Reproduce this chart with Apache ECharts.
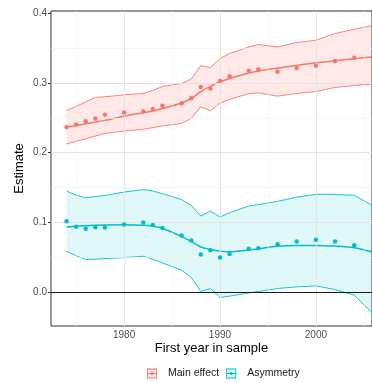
<!DOCTYPE html>
<html><head><meta charset="utf-8">
<script src="https://cdn.jsdelivr.net/npm/echarts@6/dist/echarts.min.js"></script>
<style>html,body{margin:0;padding:0;background:#fff}#c{width:372px;height:383px}</style>
</head><body><div id="c"></div>
<script>
// ---- data ----
const pointYears = [1974,1975,1976,1977,1978,1980,1982,1983,1984,1986,1987,1988,1989,1990,1991,1993,1994,1996,1998,2000,2002,2004];
const curveYears = [1974,1975,1976,1977,1978,1980,1982,1983,1984,1986,1987,1988,1989,1990,1991,1993,1994,1996,1998,2000,2002,2004,2006];

const mainPoints = [0.2369,0.2405,0.2452,0.2492,0.2545,0.2578,0.2598,0.2628,0.2674,0.2710,0.2782,0.2945,0.2925,0.3030,0.3098,0.3177,0.3198,0.3165,0.3218,0.3251,0.3320,0.3365];
const mainFit    = [0.2365,0.2390,0.2415,0.2440,0.2465,0.2525,0.2575,0.2600,0.2635,0.2715,0.2780,0.2880,0.2955,0.3020,0.3068,0.3145,0.3175,0.3215,0.3255,0.3292,0.3322,0.3352,0.3378];
const mainUpper  = [0.2607,0.2665,0.2730,0.2795,0.2805,0.2832,0.2852,0.2895,0.2952,0.2995,0.3060,0.3250,0.3225,0.3354,0.3426,0.3520,0.3555,0.3520,0.3584,0.3617,0.3713,0.3775,0.3830];
const mainLower  = [0.2125,0.2165,0.2200,0.2240,0.2275,0.2311,0.2336,0.2360,0.2387,0.2420,0.2494,0.2660,0.2603,0.2715,0.2766,0.2850,0.2861,0.2813,0.2852,0.2880,0.2938,0.2965,0.2990];

const asymPoints = [0.1014,0.0935,0.0909,0.0928,0.0924,0.0967,0.0998,0.0963,0.0917,0.0809,0.0737,0.0538,0.0600,0.0495,0.0543,0.0620,0.0629,0.0686,0.0725,0.0748,0.0723,0.0672];
const asymFit    = [0.0932,0.0945,0.0952,0.0958,0.0962,0.0965,0.0958,0.0945,0.0915,0.0795,0.0725,0.0645,0.0610,0.0586,0.0578,0.0602,0.0620,0.0655,0.0668,0.0668,0.0658,0.0635,0.0570];
const asymUpper  = [0.1449,0.1390,0.1354,0.1370,0.1387,0.1435,0.1470,0.1450,0.1412,0.1326,0.1244,0.1090,0.1162,0.1076,0.1139,0.1234,0.1254,0.1301,0.1363,0.1402,0.1402,0.1387,0.1235];
const asymLower  = [0.0584,0.0520,0.0465,0.0470,0.0479,0.0493,0.0512,0.0470,0.0416,0.0311,0.0210,0.0005,0.0049,-0.0080,-0.0062,-0.0014,0.0005,0.0049,0.0072,0.0086,0.0034,-0.0047,-0.0320];

const seriesNames = ['Main effect','Asymmetry'];
const xTickValues = [1980,1990,2000];
const yTickValues = [0,0.1,0.2,0.3,0.4];
const xMajorGrid = [1980,1990,2000];
const xMinorGrid = [1975,1985,1995,2005];
const yMajorGrid = [0.1,0.2,0.3];
const yMinorGrid = [0.05,0.15,0.25,0.35];
const zeroLine = [0];

// ---- styling ----
const RED = '#F8766D', TEAL = '#00BFC4';
const RED_FILL = 'rgba(248,118,109,0.16)', TEAL_FILL = 'rgba(0,191,196,0.12)';
const FONT = 'Liberation Sans, Arial, sans-serif';

function pairs(xs, ys){ return xs.map((x,i)=>[x, ys[i]]); }

function bandRenderer(fill){
  return function(params, api){
    if (params.dataIndexInside !== 0) return null;
    const n = params.dataInsideLength;
    const upPts = [], loPts = [];
    for (let i = 0; i < n; i++){
      const x = api.value(0, i);
      loPts.push(api.coord([x, api.value(1, i)]));
      upPts.push(api.coord([x, api.value(2, i)]));
    }
    const pts = upPts.concat(loPts.reverse());
    const cs = params.coordSys;
    return {
      type:'polygon',
      shape:{points:pts},
      style:{fill:fill, stroke:null},
      clipPath:{type:'rect', shape:{x:cs.x, y:cs.y, width:cs.width, height:cs.height}},
      silent:true
    };
  };
}

function groupSeries(name, color, fill, pts, fit, up, lo){
  return [
    {name, type:'custom', renderItem:bandRenderer(fill),
     data: curveYears.map((x,i)=>[x, lo[i], up[i]]),
     encode:{x:0, y:[1,2]}, silent:true, z:1},
    {name, type:'line', data:pairs(curveYears, up), symbol:'none', showSymbol:false, lineStyle:{color, width:0.9}, silent:true, z:3},
    {name, type:'line', data:pairs(curveYears, lo), symbol:'none', showSymbol:false, lineStyle:{color, width:0.9}, silent:true, z:3},
    {name, type:'line', data:pairs(curveYears, fit), symbol:'none', showSymbol:false, smooth:0.3, lineStyle:{color, width:1.5}, silent:true, z:4},
    {name, type:'scatter', data:pairs(pointYears, pts), symbolSize:4.5, itemStyle:{color, opacity:1}, silent:true, z:5}
  ];
}

function ml(arr, key){ return arr.map(v => ({[key]: v})); }

const gridSeries = [
  {name:'_gridMinor', type:'line', data:[], silent:true, z:0,
   markLine:{silent:true, symbol:'none', label:{show:false}, animation:false,
     lineStyle:{color:'#f0f0f0', width:0.7, type:'solid'},
     data: ml(xMinorGrid,'xAxis').concat(ml(yMinorGrid,'yAxis'))}},
  {name:'_gridMajor', type:'line', data:[], silent:true, z:0,
   markLine:{silent:true, symbol:'none', label:{show:false}, animation:false,
     lineStyle:{color:'#e4e4e4', width:1, type:'solid'},
     data: ml(xMajorGrid,'xAxis').concat(ml(yMajorGrid,'yAxis'))}},
  {name:'_zero', type:'line', data:[], silent:true, z:2,
   markLine:{silent:true, symbol:'none', label:{show:false}, animation:false,
     lineStyle:{color:'#1a1a1a', width:1.2, type:'solid'},
     data: ml(zeroLine,'yAxis')}}
];

const iconPath = 'path://M0,0 H10 V10 H0 Z M0.9,0.9 V9.1 H9.1 V0.9 Z M0.9,4.5 H9.1 V5.5 H0.9 Z M3.4,5 A1.6,1.6 0 1 1 6.6,5 A1.6,1.6 0 1 1 3.4,5 Z';

const legendBase = {orient:'horizontal', left:147, top:368, padding:0, itemWidth:10, itemHeight:10, itemGap:7,
  selectedMode:false};

const option = {
  animation:false,
  backgroundColor:'#fff',
  textStyle:{fontFamily:FONT},
  grid:{left:51, right:-1, top:11, bottom:57, show:true, borderColor:'#333', borderWidth:1, backgroundColor:'#fff'},
  xAxis:{type:'value', min:1972.38, max:2005.85,
    name:'First year in sample', nameLocation:'middle', nameGap:16, nameMoveOverlap:false,
    nameTextStyle:{fontSize:13, color:'#000', fontFamily:FONT},
    axisLine:{show:false}, splitLine:{show:false},
    axisTick:{show:true, length:3, lineStyle:{color:'#333'}, customValues:xTickValues},
    axisLabel:{fontSize:10, color:'#4d4d4d', margin:4, fontFamily:FONT, customValues:xTickValues,
      formatter: v => String(v)}},
  yAxis:{type:'value', min:-0.049, max:0.4037,
    name:'Estimate', nameLocation:'middle', nameGap:25, nameRotate:90, nameMoveOverlap:false,
    nameTextStyle:{fontSize:13, color:'#000', fontFamily:FONT},
    axisLine:{show:false}, splitLine:{show:false},
    axisTick:{show:true, length:3, lineStyle:{color:'#333'}, customValues:yTickValues},
    axisLabel:{fontSize:10, color:'#4d4d4d', margin:4, fontFamily:FONT, customValues:yTickValues,
      formatter: v => v.toFixed(1)}},
  legend:[
    Object.assign({}, legendBase, {
      data:[
        {name:seriesNames[0], icon:'rect', itemStyle:{color:RED_FILL, borderWidth:0}},
        {name:seriesNames[1], icon:'rect', itemStyle:{color:TEAL_FILL, borderWidth:0}}
      ],
      textStyle:{fontSize:10.5, color:'#1a1a1a', fontFamily:FONT, padding:[0,0,0,6]}
    }),
    Object.assign({}, legendBase, {
      data:[
        {name:seriesNames[0], icon:iconPath, itemStyle:{color:RED, borderWidth:0}},
        {name:seriesNames[1], icon:iconPath, itemStyle:{color:TEAL, borderWidth:0}}
      ],
      textStyle:{fontSize:10.5, color:'rgba(0,0,0,0)', fontFamily:FONT, padding:[0,0,0,6]}
    })
  ],
  series: gridSeries
    .concat(groupSeries(seriesNames[0], RED, RED_FILL, mainPoints, mainFit, mainUpper, mainLower))
    .concat(groupSeries(seriesNames[1], TEAL, TEAL_FILL, asymPoints, asymFit, asymUpper, asymLower))
};

const chart = echarts.init(document.getElementById('c'), null, {renderer:'canvas'});
chart.setOption(option);
</script>
</body></html>
